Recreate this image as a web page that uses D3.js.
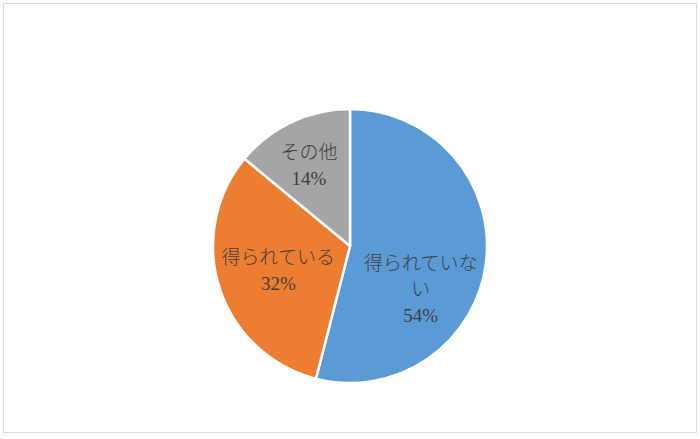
<!DOCTYPE html>
<html lang="ja">
<head>
<meta charset="utf-8">
<title>Pie chart</title>
<script src="https://cdn.jsdelivr.net/npm/d3@7"></script>
<style>
  body { margin: 0; background: #fff; }
  .label text {
    font-family: "Liberation Serif", "Noto Sans CJK JP", serif;
    font-size: 19px;
    font-weight: 300;
    fill: #404040;
  }
</style>
</head>
<body>
<script>
// data
var categories = ["得られていない", "得られている", "その他"];
var values = [54, 32, 14];
var labelLines = [["得られていな", "い"], ["得られている"], ["その他"]];
var colors = ["#5b9bd5", "#ed7d31", "#a5a5a5"];

var w = 700, h = 439;
var cx = 350, cy = 246, r = 137;

var svg = d3.select("body").append("svg")
    .attr("width", w)
    .attr("height", h);

// chart frame
svg.append("rect")
    .attr("x", 3.5).attr("y", 3.5)
    .attr("width", 693).attr("height", 429)
    .attr("fill", "#fff")
    .attr("stroke", "#d9d9d9")
    .attr("stroke-width", 1);

var pie = d3.pie().sort(null)(values);
var arc = d3.arc().innerRadius(0).outerRadius(r);
var labelArc = d3.arc().innerRadius(r * 0.55).outerRadius(r * 0.55);

var g = svg.append("g").attr("transform", "translate(" + cx + "," + cy + ")");

g.selectAll("path")
  .data(pie)
  .enter()
  .append("path")
  .attr("d", arc)
  .attr("fill", function(d, i) { return colors[i]; })
  .attr("stroke", "#fff")
  .attr("stroke-width", 2.5)
  .attr("stroke-linejoin", "round");

// small nudges so labels sit where the original placed them
var nudge = [[-4, 34], [0, 1], [-9, -12]];
var lineH = 26;

var labels = g.selectAll("g.label")
  .data(pie)
  .enter()
  .append("g")
  .attr("class", "label")
  .attr("transform", function(d, i) {
    var c = labelArc.centroid(d);
    return "translate(" + (c[0] + nudge[i][0]) + "," + (c[1] + nudge[i][1]) + ")";
  });

labels.each(function(d, i) {
  var lines = labelLines[i].concat([d.data + "%"]);
  var t = d3.select(this).append("text").attr("text-anchor", "middle");
  var top = -(lines.length - 1) * lineH / 2;
  lines.forEach(function(s, k) {
    t.append("tspan")
      .attr("x", 0)
      .attr("y", top + k * lineH)
      .attr("dy", "0.35em")
      .text(s);
  });
});
</script>
</body>
</html>
